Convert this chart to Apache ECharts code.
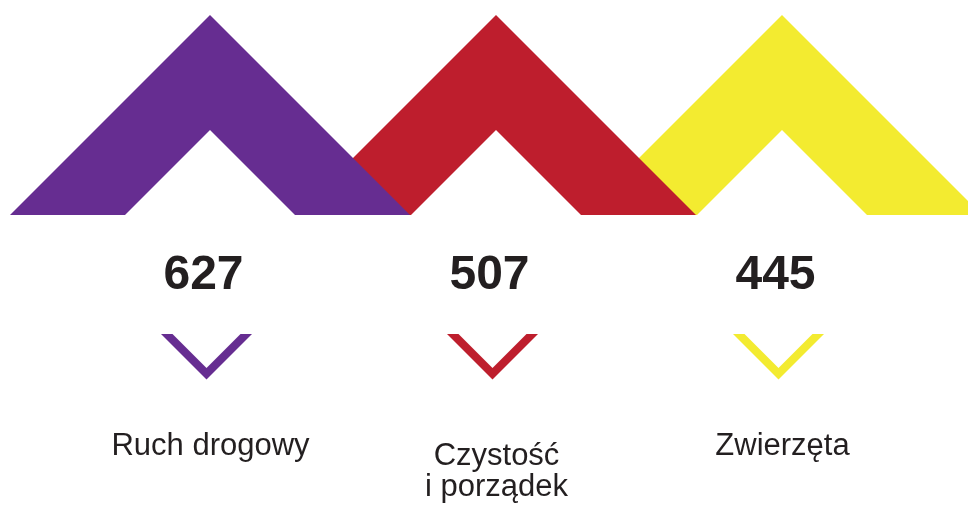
<!DOCTYPE html>
<html>
<head>
<meta charset="utf-8">
<script src="https://cdn.jsdelivr.net/npm/echarts@6/dist/echarts.min.js"></script>
<style>
html,body{margin:0;padding:0;background:#fff;}
#main{width:968px;height:507px;}
</style>
</head>
<body>
<div id="main"></div>
<script>
var categories = ['Ruch drogowy', 'Czystość\ni porządek', 'Zwierzęta'];
var values = [627, 507, 445];
var colors = ['#662d91', '#be1e2d', '#f3eb30'];

var chart = echarts.init(document.getElementById('main'), null, {renderer: 'canvas'});
var FONT = '"Liberation Sans", Arial, sans-serif';

function renderItem(params, api) {
  var i = params.dataIndex;
  var n = categories.length;
  var base = api.coord([i, 0]);
  var top = api.coord([i, 1]);
  var cx = base[0], by = base[1], ty = top[1];
  var h = by - ty;            // outer chevron height (45 degree sides)
  var innerH = 85;            // inner notch height
  var col = colors[i];
  var big = [
    [cx - h, by], [cx, ty], [cx + h, by],
    [cx + innerH, by], [cx, by - innerH], [cx - innerH, by]
  ];
  // small chevron
  var sx = cx - 3.5, sTop = 334, sHalf = 45.5, sArm = 11.5;
  var small = [
    [sx - sHalf, sTop], [sx, sTop + sHalf], [sx + sHalf, sTop],
    [sx + sHalf - sArm, sTop], [sx, sTop + sHalf - sArm], [sx - sHalf + sArm, sTop]
  ];
  var lbl = categories[i];
  var lines = lbl.split('\n').length;
  return {
    type: 'group',
    children: [
      {type: 'polygon', z2: (n - i) * 10, shape: {points: big}, style: {fill: col}},
      {type: 'text', z2: 100, style: {
        text: String(api.value(1)), x: cx - 6.5, y: 276,
        align: 'center', verticalAlign: 'middle',
        font: 'bold 48px ' + FONT, fill: '#231f20'
      }},
      {type: 'polygon', z2: 100, shape: {points: small}, style: {fill: col}},
      {type: 'text', z2: 100, style: {
        text: lbl, x: cx + 0.5, y: 446 + (lines - 1) * 26,
        align: 'center', verticalAlign: 'middle',
        font: '31px ' + FONT, lineHeight: 31, fill: '#231f20'
      }}
    ]
  };
}

chart.setOption({
  animation: false,
  backgroundColor: '#ffffff',
  grid: {left: 67, width: 858, top: 15, bottom: 292},
  xAxis: {type: 'category', data: categories, show: false, boundaryGap: true},
  yAxis: {type: 'value', min: 0, max: 1, show: false},
  series: [{
    type: 'custom',
    clip: false,
    renderItem: renderItem,
    data: values.map(function (v, i) { return [i, v]; }),
    encode: {x: 0, y: -1}
  }]
});
</script>
</body>
</html>
